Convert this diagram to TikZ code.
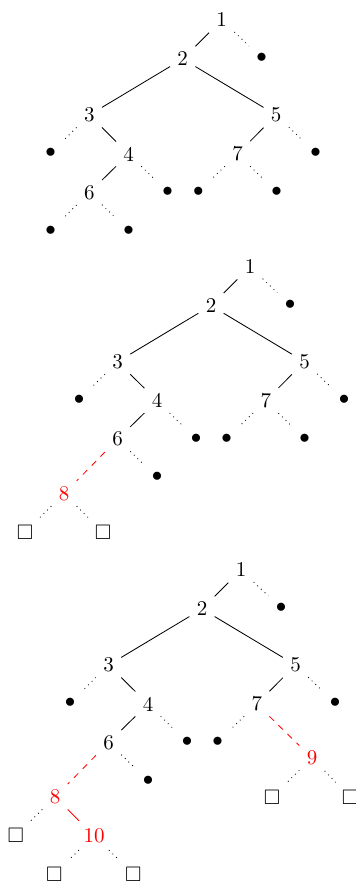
\documentclass[tikz,border=0pt]{standalone}
\usepackage{amssymb}

\tikzset{
  treenode/.style={inner sep=0.333em},
  leafdot/.style={inner sep=0.333em},
  leafbox/.style={inner sep=0.333em},
  treeedge/.style={line width=0.4pt},
  nulledge/.style={dotted, line width=0.4pt},
  newedge/.style={red, dashed, line width=0.4pt},
  newsolid/.style={red, line width=0.4pt},
  newnode/.style={treenode, text=red}
}

% Part of the tree shared by all three stages; #1 is a name prefix.
\newcommand\drawbasetree[1]{%
  \node[treenode] (#1n1) at (0,0) {1};
  \node[leafdot]  (#1b1) at (40,38) {$\bullet$};
  \node[treenode] (#1n2) at (-39,39) {2};
  \node[treenode] (#1n3) at (-132.4,95) {3};
  \node[treenode] (#1n5) at (54.5,95) {5};
  \node[leafdot]  (#1b3) at (-171,133) {$\bullet$};
  \node[treenode] (#1n4) at (-93,134) {4};
  \node[treenode] (#1n7) at (15.8,134) {7};
  \node[leafdot]  (#1b5) at (94,133) {$\bullet$};
  \node[treenode] (#1n6) at (-132.4,172.5) {6};
  \node[leafdot]  (#1b4) at (-54,172) {$\bullet$};
  \node[leafdot]  (#1b7l) at (-23.4,172) {$\bullet$};
  \node[leafdot]  (#1b6r) at (-93,210.5) {$\bullet$};
  \draw[treeedge] (#1n1) -- (#1n2);
  \draw[nulledge] (#1n1) -- (#1b1);
  \draw[treeedge] (#1n2) -- (#1n3);
  \draw[treeedge] (#1n2) -- (#1n5);
  \draw[nulledge] (#1n3) -- (#1b3);
  \draw[treeedge] (#1n3) -- (#1n4);
  \draw[treeedge] (#1n5) -- (#1n7);
  \draw[nulledge] (#1n5) -- (#1b5);
  \draw[treeedge] (#1n4) -- (#1n6);
  \draw[nulledge] (#1n4) -- (#1b4);
  \draw[nulledge] (#1n7) -- (#1b7l);
  \draw[nulledge] (#1n6) -- (#1b6r);
}

\begin{document}
\begin{tikzpicture}[x=0.47619pt, y=-0.47619pt]
\useasboundingbox (0,0) rectangle (356,881);

% Stage 1: the initial tree
\begin{scope}[shift={(221.7,20)}]
  \drawbasetree{A}
  \node[leafdot] (Ab7r) at (55,172) {$\bullet$};
  \node[leafdot] (Ab6l) at (-171,210.5) {$\bullet$};
  \draw[nulledge] (An7) -- (Ab7r);
  \draw[nulledge] (An6) -- (Ab6l);
\end{scope}

% Stage 2: key 8 inserted below 6
\begin{scope}[shift={(250,266.7)}]
  \drawbasetree{B}
  \node[leafdot] (Bb7r) at (54.5,172) {$\bullet$};
  \node[newnode] (Bn8) at (-186,227) {8};
  \node[leafbox] (Bs8l) at (-225,265.5) {$\square$};
  \node[leafbox] (Bs8r) at (-147,265.5) {$\square$};
  \draw[nulledge] (Bn7) -- (Bb7r);
  \draw[newedge] (Bn6) -- (Bn8);
  \draw[nulledge] (Bn8) -- (Bs8l);
  \draw[nulledge] (Bn8) -- (Bs8r);
\end{scope}

% Stage 3: keys 9 and 10 inserted
\begin{scope}[shift={(241,570)}]
  \drawbasetree{C}
  \node[newnode] (Cn9) at (71,188) {9};
  \node[leafbox] (Cs9l) at (31,227) {$\square$};
  \node[leafbox] (Cs9r) at (109,227) {$\square$};
  \node[newnode] (Cn8) at (-186,227) {8};
  \node[leafbox] (Cs8l) at (-225.3,265.5) {$\square$};
  \node[newnode] (Cn10) at (-147,265.5) {10};
  \node[leafbox] (Cs10l) at (-186.7,304) {$\square$};
  \node[leafbox] (Cs10r) at (-107.7,304) {$\square$};
  \draw[newedge] (Cn7) -- (Cn9);
  \draw[nulledge] (Cn9) -- (Cs9l);
  \draw[nulledge] (Cn9) -- (Cs9r);
  \draw[newedge] (Cn6) -- (Cn8);
  \draw[nulledge] (Cn8) -- (Cs8l);
  \draw[newsolid] (Cn8) -- (Cn10);
  \draw[nulledge] (Cn10) -- (Cs10l);
  \draw[nulledge] (Cn10) -- (Cs10r);
\end{scope}
\end{tikzpicture}
\end{document}
